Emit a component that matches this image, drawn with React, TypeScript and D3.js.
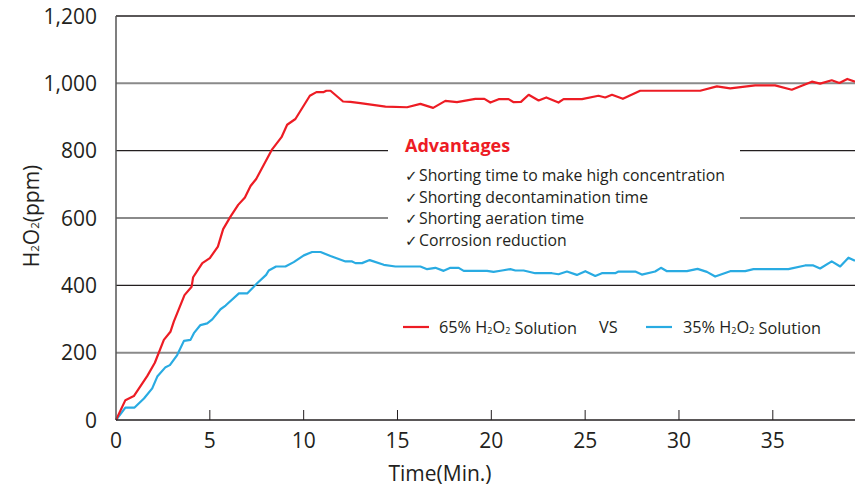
import * as d3 from "d3";

// readings taken from the chart: [minutes, ppm]
const h2o2_65: [number, number][] = [
  [0, 0], [0.5, 59], [0.95, 71], [1.67, 131], [2.07, 170], [2.55, 238], [2.9, 262],
  [3.08, 292], [3.65, 371], [4.03, 396], [4.11, 424], [4.6, 466], [5.0, 481],
  [5.43, 515], [5.71, 567], [6.1, 604], [6.51, 639], [6.87, 661], [7.17, 695],
  [7.47, 716], [8.32, 804], [8.82, 840], [9.12, 877], [9.56, 894], [10.33, 963],
  [10.68, 974], [11.07, 974], [11.21, 978], [11.43, 978], [12.1, 946], [12.49, 945],
  [13.02, 941], [14.36, 931], [15.51, 929], [16.22, 939], [16.9, 927], [17.55, 948],
  [18.17, 944], [19.15, 954], [19.63, 954], [19.95, 943], [20.39, 953], [20.92, 953],
  [21.19, 944], [21.58, 945], [21.99, 966], [22.52, 949], [22.93, 958], [23.58, 943],
  [23.85, 953], [24.83, 953], [25.71, 963], [26.07, 958], [26.43, 966], [27.01, 954],
  [27.93, 978], [31.13, 978], [32.02, 991], [32.73, 985], [34.06, 994], [35.12, 994],
  [36.01, 981], [37.08, 1005], [37.52, 999], [38.14, 1009], [38.55, 1001],
  [38.97, 1013], [39.38, 1005],
];

const h2o2_35: [number, number][] = [
  [0, 0], [0.5, 37], [0.99, 37], [1.49, 64], [1.93, 94], [2.2, 129], [2.64, 157],
  [2.87, 163], [3.26, 193], [3.62, 235], [3.97, 238], [4.15, 258], [4.5, 282],
  [4.86, 287], [5.13, 299], [5.57, 329], [5.84, 340], [6.55, 376], [6.99, 376],
  [7.52, 406], [8.0, 431], [8.14, 444], [8.53, 456], [9.03, 456], [9.47, 469],
  [10.01, 489], [10.45, 499], [10.9, 499], [11.43, 487], [12.23, 471], [12.58, 471],
  [12.76, 466], [13.11, 466], [13.52, 475], [14.27, 461], [14.89, 456], [16.22, 456],
  [16.58, 448], [17.02, 452], [17.46, 443], [17.82, 452], [18.26, 452], [18.53, 443],
  [19.77, 443], [20.12, 440], [20.57, 444], [21.01, 448], [21.28, 444], [21.72, 444],
  [22.34, 436], [23.23, 436], [23.58, 433], [24.03, 441], [24.56, 431], [25.01, 442],
  [25.54, 428], [25.89, 436], [26.6, 436], [26.78, 441], [27.67, 441], [28.02, 432],
  [28.73, 441], [29.04, 452], [29.36, 442], [30.42, 442], [30.99, 449], [31.49, 440],
  [31.93, 426], [32.73, 442], [33.53, 442], [33.97, 448], [35.83, 448], [36.72, 459],
  [37.16, 459], [37.52, 450], [38.14, 471], [38.59, 456], [39.03, 482], [39.38, 473],
];

const yTicks = [0, 200, 400, 600, 800, 1000, 1200];
const xTicks = [0, 5, 10, 15, 20, 25, 30, 35];
const advantages = [
  "Shorting time to make high concentration",
  "Shorting decontamination time",
  "Shorting aeration time",
  "Corrosion reduction",
];

const W = 855;
const H = 486;
const left = 116;
const top = 16;
const bottom = 420;
const RED = "#ed1c24";
const BLUE = "#29abe2";
const INK = "#231f20";
const FONT = "'Open Sans', 'Noto Sans', sans-serif";

const x = d3.scaleLinear().domain([0, 39.38]).range([left, W]);
const y = d3.scaleLinear().domain([0, 1200]).range([bottom, top]);
const line = d3
  .line<[number, number]>()
  .x((d) => x(d[0]))
  .y((d) => y(d[1]));

// H2O2 with small subscripts
function H2O2({ size }: { size: number }) {
  const s = size * 0.55;
  return (
    <>
      <tspan>H</tspan>
      <tspan fontSize={s} dy={size * 0.04}>2</tspan>
      <tspan dy={-size * 0.04}>O</tspan>
      <tspan fontSize={s} dy={size * 0.04}>2</tspan>
      <tspan dy={-size * 0.04}></tspan>
    </>
  );
}

export default function App() {
  return (
    <svg
      width={W}
      height={H}
      style={{ position: "absolute", left: 0, top: 0, background: "#fff" }}
      fontFamily={FONT}
    >
      {/* grid */}
      {yTicks
        .filter((t) => t > 0 && t < 1200)
        .map((t) => (
          <line
            key={t}
            x1={left}
            x2={W}
            y1={y(t)}
            y2={y(t)}
            stroke={t % 400 === 0 ? INK : "#8a8a8a"}
            strokeWidth={t % 400 === 0 ? 1.2 : 2}
          />
        ))}
      <line x1={left} x2={W} y1={y(1200)} y2={y(1200)} stroke={INK} strokeWidth={1.5} />

      {/* white panel behind advantages */}
      <rect x={388} y={125} width={352} height={132} fill="#fff" />

      {/* series */}
      <path d={line(h2o2_35) ?? ""} fill="none" stroke={BLUE} strokeWidth={2.2} strokeLinejoin="round" />
      <path d={line(h2o2_65) ?? ""} fill="none" stroke={RED} strokeWidth={2.2} strokeLinejoin="round" />

      {/* axes */}
      <line x1={left} x2={left} y1={y(1200)} y2={bottom} stroke="#555" strokeWidth={1.5} />
      <line x1={left} x2={W} y1={bottom} y2={bottom} stroke={INK} strokeWidth={1.5} />
      {xTicks
        .filter((t) => t > 0)
        .map((t) => (
          <line key={t} x1={x(t)} x2={x(t)} y1={bottom} y2={bottom - 10} stroke={INK} strokeWidth={1} />
        ))}
      {yTicks.map((t) => (
        <text key={t} x={97} y={y(t)} dy="0.36em" textAnchor="end" fontSize={21} fill={INK}>
          {d3.format(",")(t)}
        </text>
      ))}
      {xTicks.map((t) => (
        <text key={t} x={x(t)} y={440} dy="0.36em" textAnchor="middle" fontSize={21} fill={INK}>
          {t}
        </text>
      ))}
      <text x={440} y={473} dy="0.36em" textAnchor="middle" fontSize={21} fill={INK}>
        Time(Min.)
      </text>
      <text
        transform={`translate(31, ${y(600) - 2}) rotate(-90)`}
        dy="0.36em"
        textAnchor="middle"
        fontSize={21}
        fill={INK}
      >
        <H2O2 size={21} />
        (ppm)
      </text>

      {/* advantages */}
      <text x={405} y={152} fontSize={18} fontWeight="bold" fill={RED}>
        Advantages
      </text>
      {advantages.map((a, i) => (
        <text key={a} x={405} y={181 + i * 21.7} fontSize={15.8} fill={INK}>
          <tspan fontFamily="'DejaVu Sans', sans-serif" fontSize={15} fontWeight="bold">✓</tspan>
          <tspan x={419}>{a}</tspan>
        </text>
      ))}

      {/* legend */}
      <line x1={403} x2={429} y1={327} y2={327} stroke={RED} strokeWidth={2.2} />
      <text x={439} y={327} dy="0.36em" fontSize={16.3} fill={INK}>
        65% <H2O2 size={16.3} /> Solution
      </text>
      <text x={599} y={327} dy="0.36em" fontSize={16.3} fill={INK}>
        VS
      </text>
      <line x1={646} x2={672} y1={327} y2={327} stroke={BLUE} strokeWidth={2.2} />
      <text x={683} y={327} dy="0.36em" fontSize={16.3} fill={INK}>
        35% <H2O2 size={16.3} /> Solution
      </text>
    </svg>
  );
}
